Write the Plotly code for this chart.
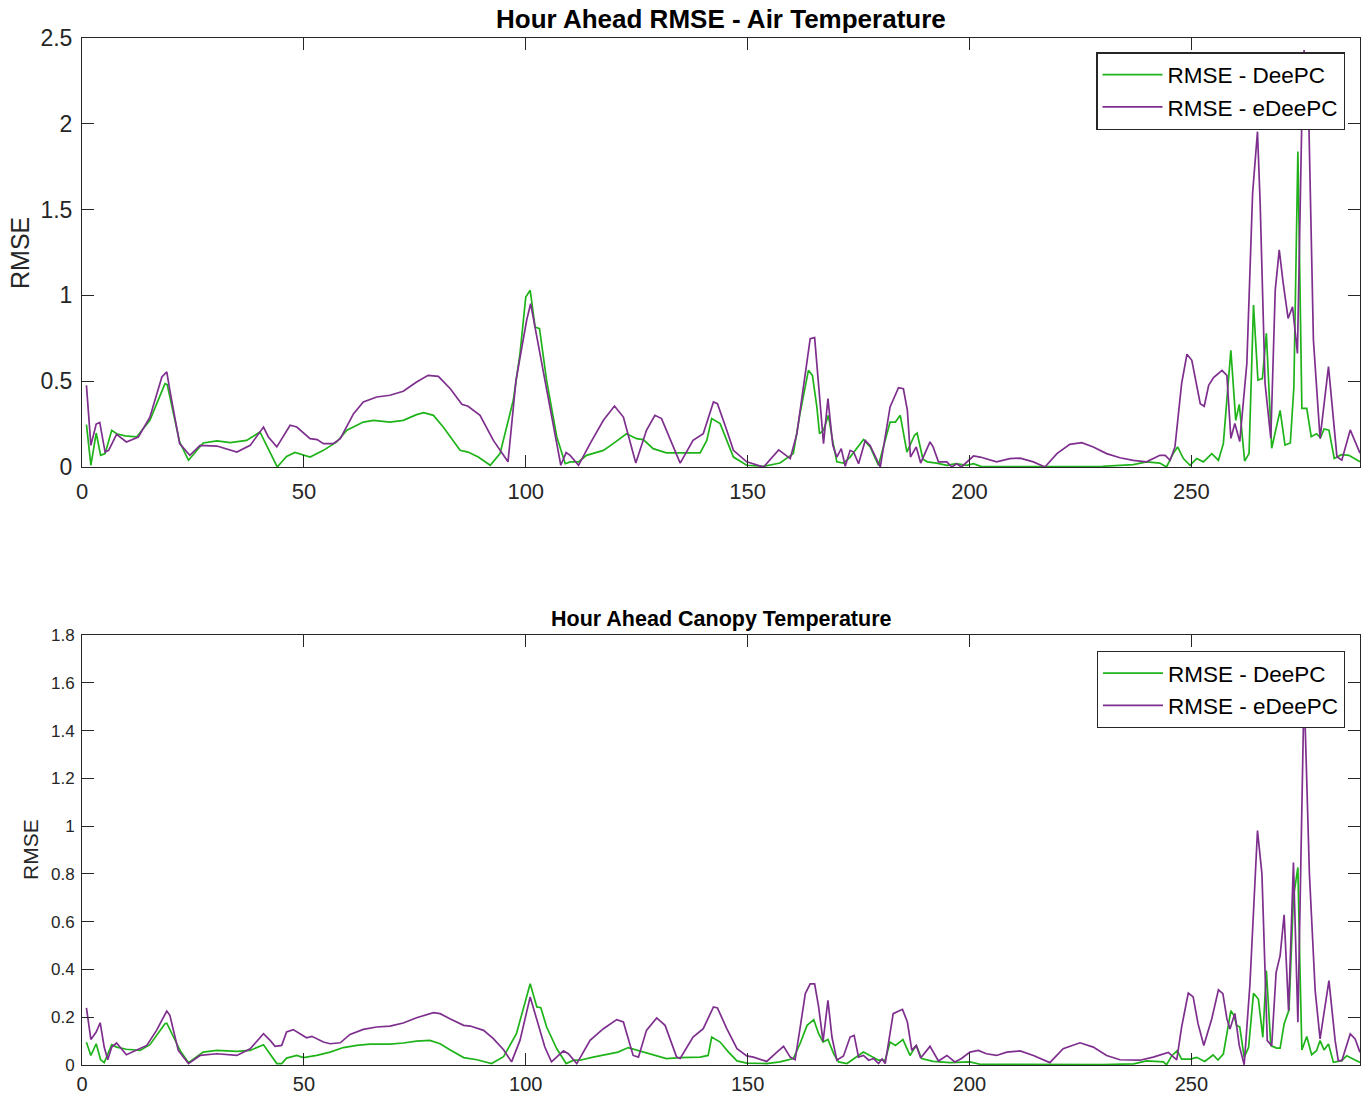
import plotly.graph_objects as go

# ---------------- data ----------------
air_deepc_x = [1, 2, 3.2, 4.2, 5.2, 6.7, 7.8, 9.7, 12.3, 15.3, 18.7, 19.2, 22, 24, 27.3, 30.4, 33.4, 37.1, 40.1, 42.4, 44, 46.1, 48, 51.4, 54.4, 57.4, 59.7, 63.4, 65.7, 69.4, 72.4, 75.4, 77, 79.2, 81.4, 85.2, 87, 89.3, 92, 94.2, 97.2, 98.7, 100, 101, 102.1, 103.1, 104.7, 107, 108.9, 110, 111.9, 113.7, 117.5, 119.7, 122.7, 125, 126.5, 128.7, 131.7, 134.8, 139.3, 140.8, 141.9, 143.8, 145.3, 146.8, 149.8, 153.6, 157.3, 160.3, 161.8, 163.7, 164.6, 165.6, 166.2, 167.1, 168.2, 169, 170.1, 171.6, 173.1, 176.1, 177.6, 179.5, 180.6, 182.1, 183.3, 184.4, 185.9, 187.6, 188.2, 189.5, 190.5, 192.6, 194.9, 197, 199.4, 200.9, 202.7, 210, 220, 230, 236.9, 239.9, 242.9, 244.4, 245.9, 246.9, 248.2, 249.7, 251.2, 252.7, 254.6, 256.1, 257.2, 258.9, 260, 260.8, 262, 263, 264, 265, 266, 266.9, 268.1, 270, 271.1, 272.3, 273.1, 274, 274.9, 276, 277, 278.2, 279.1, 279.9, 281, 282.2, 283.8, 285.5, 288]
air_deepc_y = [0.247, 0.01, 0.198, 0.068, 0.078, 0.214, 0.194, 0.181, 0.175, 0.272, 0.486, 0.48, 0.146, 0.039, 0.14, 0.152, 0.142, 0.155, 0.204, 0.078, 0.0, 0.062, 0.085, 0.058, 0.097, 0.146, 0.214, 0.262, 0.272, 0.262, 0.272, 0.305, 0.317, 0.301, 0.233, 0.097, 0.087, 0.058, 0.01, 0.078, 0.39, 0.66, 0.99, 1.03, 0.816, 0.806, 0.505, 0.175, 0.019, 0.03, 0.03, 0.068, 0.097, 0.136, 0.194, 0.165, 0.16, 0.107, 0.082, 0.082, 0.082, 0.155, 0.282, 0.253, 0.155, 0.058, 0.01, 0.004, 0.023, 0.078, 0.311, 0.563, 0.534, 0.35, 0.194, 0.214, 0.301, 0.175, 0.03, 0.023, 0.058, 0.16, 0.117, 0.01, 0.117, 0.262, 0.262, 0.301, 0.087, 0.185, 0.198, 0.045, 0.03, 0.023, 0.01, 0.02, 0.01, 0.019, 0.002, 0.003, 0.003, 0.004, 0.014, 0.03, 0.023, 0.0, 0.078, 0.117, 0.049, 0.01, 0.049, 0.03, 0.078, 0.039, 0.136, 0.68, 0.272, 0.365, 0.035, 0.078, 0.944, 0.507, 0.515, 0.779, 0.109, 0.33, 0.128, 0.14, 0.466, 1.838, 0.342, 0.342, 0.177, 0.194, 0.17, 0.222, 0.215, 0.05, 0.072, 0.068, 0.03]

air_edeepc_x = [1, 2, 3.2, 4, 5.2, 6, 7.8, 10, 12.7, 15.3, 18, 19.1, 19.8, 22, 24.3, 26.6, 30.4, 34.9, 37.9, 40.9, 42, 43.9, 46.9, 48.4, 51.4, 53, 54.4, 56.6, 58.2, 61.2, 63.4, 66.4, 69.4, 72.4, 75.4, 78, 80.3, 83, 85.6, 87, 89.7, 92.7, 96, 97.8, 100.2, 101.1, 102.5, 104.7, 106.6, 107.9, 109.1, 110, 111.9, 114.5, 117.5, 120, 122, 124.8, 127.2, 129.1, 130.6, 132.9, 134.8, 137.7, 140, 142.3, 143.2, 145.3, 146.8, 149.8, 153.6, 157, 159.6, 161.1, 163.4, 164.1, 165.1, 166, 167.1, 168.1, 169.2, 170.1, 171.1, 172, 173.1, 173.9, 175, 176.5, 177.6, 179.9, 182.1, 184, 185.1, 186, 186.7, 188, 189, 191.1, 191.8, 193, 194.9, 196, 197.1, 198.2, 199.4, 200.9, 202.4, 206.1, 209.1, 211.4, 214.4, 217, 219.7, 222.6, 225.3, 227.9, 230.9, 233.9, 236.9, 239.9, 242.9, 244.1, 245.2, 246.3, 247.8, 249, 250.1, 252, 252.9, 253.9, 255, 256.9, 258, 258.9, 259.8, 260.9, 262.5, 263.8, 264.9, 265.5, 266.6, 267.9, 268.9, 269.8, 270.7, 271.8, 272.8, 273.9, 274.9, 275.4, 276.4, 277.5, 279, 280.9, 282.8, 283.9, 285.8, 288]
air_edeepc_y = [0.476, 0.126, 0.25, 0.26, 0.087, 0.097, 0.19, 0.146, 0.175, 0.29, 0.525, 0.554, 0.447, 0.136, 0.068, 0.126, 0.122, 0.087, 0.126, 0.233, 0.175, 0.117, 0.243, 0.233, 0.165, 0.16, 0.136, 0.136, 0.165, 0.311, 0.379, 0.408, 0.418, 0.441, 0.495, 0.534, 0.528, 0.456, 0.365, 0.354, 0.301, 0.155, 0.03, 0.505, 0.855, 0.952, 0.758, 0.447, 0.194, 0.01, 0.084, 0.068, 0.01, 0.136, 0.272, 0.355, 0.291, 0.023, 0.214, 0.301, 0.282, 0.136, 0.023, 0.155, 0.194, 0.379, 0.369, 0.214, 0.097, 0.03, 0.0, 0.1, 0.049, 0.194, 0.641, 0.748, 0.754, 0.466, 0.136, 0.398, 0.126, 0.058, 0.107, 0.004, 0.097, 0.087, 0.019, 0.155, 0.126, 0.0, 0.35, 0.462, 0.456, 0.33, 0.058, 0.117, 0.023, 0.146, 0.117, 0.03, 0.03, 0.0, 0.019, 0.0, 0.03, 0.064, 0.058, 0.03, 0.049, 0.052, 0.03, 0.0, 0.078, 0.132, 0.142, 0.117, 0.078, 0.054, 0.039, 0.03, 0.068, 0.068, 0.039, 0.117, 0.486, 0.657, 0.622, 0.369, 0.354, 0.476, 0.521, 0.563, 0.534, 0.167, 0.254, 0.148, 0.604, 1.595, 1.954, 1.537, 0.488, 0.167, 1.031, 1.265, 1.07, 0.866, 0.934, 0.662, 2.04, 2.43, 2.1, 0.74, 0.167, 0.585, 0.06, 0.04, 0.216, 0.08]

canopy_deepc_x = [1, 2, 3.2, 4.2, 5, 6.7, 7.8, 10, 13.1, 15.3, 18.7, 19.1, 22.1, 24, 27.3, 30.4, 34.9, 37.9, 40.9, 42.4, 43.9, 45, 46.1, 48.4, 49.9, 52.9, 55.9, 58.9, 61.9, 64.9, 69.4, 72.4, 75.4, 78.4, 80.7, 82.9, 86, 89, 92.3, 95, 97.9, 101, 102.5, 103.4, 104.7, 107, 109.1, 110.8, 112.2, 115.2, 118.2, 120.8, 123.1, 125.7, 128.7, 131.7, 134.8, 139.3, 141.1, 141.9, 143.8, 145.7, 147.6, 149.8, 154.3, 157.3, 160.3, 161.8, 163.4, 164.9, 166, 167, 168.1, 169.4, 170.5, 172.4, 176.1, 177.6, 179.5, 181, 182.1, 183.3, 185, 186.6, 188, 189.2, 191.8, 195.6, 200.1, 202.4, 210, 220, 230, 237, 239.9, 243.7, 244.4, 245.6, 246.8, 247.8, 249.8, 251.2, 253, 254.9, 256, 257.2, 258.1, 258.9, 259.6, 260.2, 260.9, 261.9, 262.9, 264, 265.1, 266.1, 266.9, 267.9, 269.2, 270, 270.9, 272, 273, 273.5, 274, 274.5, 274.9, 276, 277.1, 278.2, 279, 279.9, 280.9, 282, 283.9, 285, 288]
canopy_deepc_y = [0.095, 0.04, 0.089, 0.022, 0.01, 0.085, 0.075, 0.066, 0.061, 0.085, 0.173, 0.175, 0.061, 0.01, 0.054, 0.061, 0.057, 0.061, 0.085, 0.047, 0.006, 0.006, 0.029, 0.04, 0.031, 0.04, 0.054, 0.073, 0.082, 0.087, 0.087, 0.092, 0.1, 0.103, 0.089, 0.064, 0.031, 0.022, 0.006, 0.035, 0.131, 0.34, 0.243, 0.24, 0.159, 0.068, 0.006, 0.02, 0.02, 0.033, 0.043, 0.054, 0.073, 0.059, 0.04, 0.027, 0.031, 0.033, 0.04, 0.117, 0.096, 0.054, 0.017, 0.008, 0.006, 0.013, 0.027, 0.089, 0.166, 0.19, 0.131, 0.096, 0.107, 0.047, 0.013, 0.006, 0.054, 0.04, 0.02, 0.02, 0.096, 0.082, 0.106, 0.04, 0.082, 0.027, 0.015, 0.01, 0.013, 0.003, 0.002, 0.002, 0.002, 0.005, 0.017, 0.013, 0.001, 0.039, 0.06, 0.025, 0.025, 0.032, 0.015, 0.042, 0.021, 0.046, 0.137, 0.227, 0.207, 0.165, 0.16, 0.032, 0.074, 0.3, 0.276, 0.116, 0.395, 0.081, 0.071, 0.071, 0.172, 0.23, 0.702, 0.758, 0.827, 0.381, 0.063, 0.119, 0.043, 0.06, 0.102, 0.063, 0.088, 0.011, 0.018, 0.039, 0.011]

canopy_edeepc_x = [1, 2, 3.2, 4.1, 5, 5.8, 6.7, 7.8, 10, 12.3, 14.6, 16.8, 19.1, 19.8, 21.7, 24, 26.6, 30.4, 34.9, 37.9, 40.9, 42.4, 43.5, 45, 46.1, 47.6, 50.6, 51.8, 54.4, 55.9, 58.2, 60.4, 63.4, 66.4, 69.4, 72.4, 75.4, 79.2, 80.7, 82.9, 86, 87.5, 90.5, 92.7, 95, 96.8, 98.7, 101, 102.5, 104.3, 105.8, 108.5, 109.6, 111.5, 114.5, 117.5, 120.5, 122, 124.2, 125.4, 127.2, 129.5, 131.4, 134, 134.8, 137.7, 140, 142.3, 143.2, 145.3, 147.6, 149.8, 151.3, 154.3, 156.6, 158.1, 159.6, 160.7, 161.8, 163, 164.1, 165.1, 166, 167, 168.1, 169, 170.1, 171.6, 173.1, 174, 175, 176.1, 177.3, 178.4, 179.5, 180.3, 181, 182.8, 184.9, 186, 187, 188, 189, 191.1, 193, 194.9, 196.7, 198.2, 200.1, 202, 203.8, 206.1, 208.4, 211.4, 214.4, 218.1, 221.1, 224.9, 227.9, 230.9, 233.9, 238.4, 241.4, 244.8, 246.7, 247.8, 249.3, 250.4, 251.5, 252.8, 254.6, 256.1, 257.1, 258, 258.7, 259.8, 260.8, 261.9, 263.2, 264.9, 265.9, 267.1, 268.1, 269.1, 270, 270.9, 271.9, 273, 274, 275.4, 276.6, 277.9, 279, 281, 282.4, 283.1, 283.9, 285.8, 286.9, 288]
canopy_edeepc_y = [0.239, 0.107, 0.138, 0.177, 0.075, 0.022, 0.075, 0.092, 0.043, 0.064, 0.082, 0.145, 0.226, 0.208, 0.061, 0.006, 0.04, 0.047, 0.04, 0.068, 0.131, 0.103, 0.078, 0.082, 0.138, 0.148, 0.114, 0.12, 0.096, 0.089, 0.093, 0.128, 0.149, 0.159, 0.163, 0.176, 0.198, 0.219, 0.215, 0.194, 0.166, 0.163, 0.145, 0.11, 0.064, 0.013, 0.103, 0.285, 0.187, 0.075, 0.013, 0.059, 0.047, 0.006, 0.103, 0.152, 0.19, 0.18, 0.04, 0.033, 0.145, 0.197, 0.166, 0.033, 0.027, 0.117, 0.152, 0.243, 0.239, 0.152, 0.068, 0.038, 0.033, 0.015, 0.054, 0.078, 0.033, 0.022, 0.152, 0.299, 0.34, 0.34, 0.243, 0.099, 0.271, 0.117, 0.02, 0.038, 0.117, 0.124, 0.033, 0.04, 0.02, 0.027, 0.006, 0.025, 0.006, 0.215, 0.233, 0.18, 0.061, 0.082, 0.029, 0.078, 0.017, 0.04, 0.013, 0.027, 0.054, 0.061, 0.047, 0.04, 0.054, 0.059, 0.04, 0.01, 0.068, 0.093, 0.075, 0.04, 0.022, 0.02, 0.033, 0.053, 0.021, 0.159, 0.301, 0.285, 0.173, 0.082, 0.194, 0.315, 0.299, 0.194, 0.151, 0.216, 0.081, 0.001, 0.339, 0.981, 0.8, 0.102, 0.081, 0.388, 0.458, 0.629, 0.227, 0.848, 0.179, 1.58, 0.8, 0.311, 0.109, 0.353, 0.102, 0.018, 0.018, 0.13, 0.109, 0.053]

series_names = ["RMSE - DeePC", "RMSE - eDeePC"]
titles = ["Hour Ahead RMSE - Air Temperature", "Hour Ahead Canopy Temperature"]
x_ticks = [0, 50, 100, 150, 200, 250]
top_y_ticks = [0, 0.5, 1, 1.5, 2, 2.5]
top_y_labels = ["0", "0.5", "1", "1.5", "2", "2.5"]
bot_y_ticks = [0, 0.2, 0.4, 0.6, 0.8, 1.0, 1.2, 1.4, 1.6, 1.8]
bot_y_labels = ["0", "0.2", "0.4", "0.6", "0.8", "1", "1.2", "1.4", "1.6", "1.8"]

GREEN = "#1FB31A"
PURPLE = "#7E2F8E"
AX = "#262626"
FONT = "Liberation Sans, Arial, Helvetica, sans-serif"

fig = go.Figure()
fig.add_trace(go.Scatter(x=air_deepc_x, y=air_deepc_y, mode="lines", name=series_names[0],
                         line=dict(color=GREEN, width=1.7), xaxis="x", yaxis="y", legend="legend"))
fig.add_trace(go.Scatter(x=air_edeepc_x, y=air_edeepc_y, mode="lines", name=series_names[1],
                         line=dict(color=PURPLE, width=1.7), xaxis="x", yaxis="y", legend="legend"))
fig.add_trace(go.Scatter(x=canopy_deepc_x, y=canopy_deepc_y, mode="lines", name=series_names[0],
                         line=dict(color=GREEN, width=1.7), xaxis="x2", yaxis="y2", legend="legend2"))
fig.add_trace(go.Scatter(x=canopy_edeepc_x, y=canopy_edeepc_y, mode="lines", name=series_names[1],
                         line=dict(color=PURPLE, width=1.7), xaxis="x2", yaxis="y2", legend="legend2"))

W, H = 1368, 1097
ML, MR, MT, MB = 82, 8, 38, 32
PH = H - MT - MB


def py_to_paper(py):
    return (H - MB - py) / PH


def px_to_paper(px):
    return (px - ML) / (W - ML - MR)


common_axis = dict(showline=True, linecolor=AX, linewidth=1, mirror="ticks", ticks="inside",
                   ticklen=12, tickcolor=AX, tickwidth=1, showgrid=False, zeroline=False,
                   color=AX, automargin=False)

fig.update_layout(
    width=W, height=H,
    margin=dict(l=ML, r=MR, t=MT, b=MB, autoexpand=False),
    paper_bgcolor="white", plot_bgcolor="white",
    font=dict(family=FONT, color=AX),
    xaxis=dict(common_axis, domain=[0, 1], anchor="y", range=[0, 288], tickvals=x_ticks,
               tickfont=dict(size=22), ticklabelstandoff=5),
    yaxis=dict(common_axis, domain=[py_to_paper(467), 1], anchor="x", range=[0, 2.5],
               tickvals=top_y_ticks, ticktext=top_y_labels, tickfont=dict(size=23),
               ticklabelstandoff=4),
    xaxis2=dict(common_axis, domain=[0, 1], anchor="y2", range=[0, 288], tickvals=x_ticks,
                tickfont=dict(size=20), ticklabelstandoff=1),
    yaxis2=dict(common_axis, domain=[0, py_to_paper(635)], anchor="x2", range=[0, 1.8],
                tickvals=bot_y_ticks, ticktext=bot_y_labels, tickfont=dict(size=17),
                ticklabelstandoff=3),
    legend=dict(x=px_to_paper(1345), y=py_to_paper(52), xanchor="right", yanchor="top",
                bgcolor="white", bordercolor=AX, borderwidth=1.5, itemwidth=60,
                font=dict(size=22.5, color="black"), tracegroupgap=0),
    legend2=dict(x=px_to_paper(1345), y=py_to_paper(651), xanchor="right", yanchor="top",
                 bgcolor="white", bordercolor=AX, borderwidth=1, itemwidth=60,
                 font=dict(size=22.5, color="black"), tracegroupgap=0),
    showlegend=True,
)

fig.add_annotation(text="<b>" + titles[0] + "</b>", x=px_to_paper(721), y=py_to_paper(19),
                   xref="paper", yref="paper", showarrow=False, font=dict(size=26, color="black"),
                   xanchor="center", yanchor="middle")
fig.add_annotation(text="<b>" + titles[1] + "</b>", x=px_to_paper(721), y=py_to_paper(619),
                   xref="paper", yref="paper", showarrow=False, font=dict(size=21.5, color="black"),
                   xanchor="center", yanchor="middle")
fig.add_annotation(text="RMSE", x=px_to_paper(20), y=py_to_paper(253), xref="paper", yref="paper",
                   showarrow=False, textangle=-90, font=dict(size=25, color=AX),
                   xanchor="center", yanchor="middle")
fig.add_annotation(text="RMSE", x=px_to_paper(30), y=py_to_paper(850), xref="paper", yref="paper",
                   showarrow=False, textangle=-90, font=dict(size=21, color=AX),
                   xanchor="center", yanchor="middle")

fig.write_html("out.html")
